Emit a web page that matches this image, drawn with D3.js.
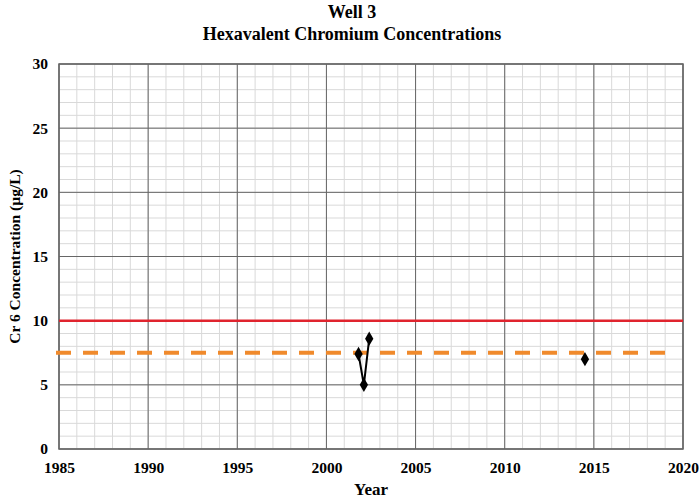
<!DOCTYPE html>
<html>
<meta charset="UTF-8">
<style>
body { margin: 0; background: #fff; }
text { font-family: "Liberation Serif", "Times New Roman", serif; fill: #000; }
.minor line { stroke: #d9d9d9; stroke-width: 1px; }
.major line { stroke: #666; stroke-width: 1px; }
</style>
<svg width="699" height="498"></svg>
<script src="https://d3js.org/d3.v7.min.js"></script>
<script>
//	chart data
var xTicks = [1985, 1990, 1995, 2000, 2005, 2010, 2015, 2020];
var yTicks = [0, 5, 10, 15, 20, 25, 30];
var sampleYears = [2001.8, 2002.1, 2002.4];
var sampleValues = [7.4, 5.0, 8.6];
var laterYears = [2014.5];
var laterValues = [7.0];
var mcl = 10;
var phg = 7.5;

var svg = d3.select("svg"),
    margin = {top: 64, right: 16, bottom: 49, left: 59},
    width = 699 - margin.left - margin.right,
    height = 498 - margin.top - margin.bottom;

var x = d3.scaleLinear().domain([1985, 2020]).range([0, width]);
var y = d3.scaleLinear().domain([0, 30]).range([height, 0]);

var g = svg.append("g").attr("transform", "translate(" + margin.left + "," + margin.top + ")");

//	grid: minor every 1, major every 5
g.append("g").attr("class", "minor")
  .selectAll("line.v").data(d3.range(1985, 2021)).enter().append("line")
  .attr("x1", function(d) { return x(d); }).attr("x2", function(d) { return x(d); })
  .attr("y1", 0).attr("y2", height);
g.select(".minor")
  .selectAll("line.h").data(d3.range(0, 31)).enter().append("line")
  .attr("y1", function(d) { return y(d); }).attr("y2", function(d) { return y(d); })
  .attr("x1", 0).attr("x2", width);

var major = g.append("g").attr("class", "major");
major.selectAll(".vx").data(xTicks).enter().append("line")
  .attr("x1", function(d) { return x(d); }).attr("x2", function(d) { return x(d); })
  .attr("y1", 0).attr("y2", height);
major.selectAll(".hy").data(yTicks).enter().append("line")
  .attr("y1", function(d) { return y(d); }).attr("y2", function(d) { return y(d); })
  .attr("x1", 0).attr("x2", width);

g.append("rect").attr("width", width).attr("height", height)
  .attr("fill", "none").attr("stroke", "#666").attr("stroke-width", 1.5);

//	axes (labels only)
var xAxis = g.append("g").attr("transform", "translate(0," + height + ")")
  .call(d3.axisBottom(x).tickValues(xTicks).tickFormat(d3.format("d")).tickSize(0).tickPadding(13));
var yAxis = g.append("g")
  .call(d3.axisLeft(y).tickValues(yTicks).tickSize(0).tickPadding(11));
[xAxis, yAxis].forEach(function(a) {
  a.select(".domain").remove();
  a.selectAll("text").attr("font-family", "Liberation Serif").attr("font-size", 15.5)
    .attr("font-weight", "bold").attr("fill", "#000");
});

//	standards
g.append("line").attr("x1", 0).attr("x2", width)
  .attr("y1", y(mcl)).attr("y2", y(mcl))
  .attr("stroke", "#e0242e").attr("stroke-width", 2.5);
g.append("line").attr("x1", -3).attr("x2", width - 10)
  .attr("y1", y(phg)).attr("y2", y(phg))
  .attr("stroke", "#f08a2c").attr("stroke-width", 4)
  .attr("stroke-dasharray", "15,12");

//	samples
var pts = sampleYears.map(function(d, i) { return [d, sampleValues[i]]; });
var pts2 = laterYears.map(function(d, i) { return [d, laterValues[i]]; });

g.append("path").datum(pts)
  .attr("fill", "none").attr("stroke", "#000").attr("stroke-width", 2)
  .attr("d", d3.line().x(function(d) { return x(d[0]); }).y(function(d) { return y(d[1]); }));

g.selectAll(".pt").data(pts.concat(pts2)).enter().append("path")
  .attr("class", "pt")
  .attr("transform", function(d) { return "translate(" + x(d[0]) + "," + y(d[1]) + ")"; })
  .attr("d", d3.symbol().type(d3.symbolDiamond).size(60))
  .attr("fill", "#000");

//	titles
svg.append("text").attr("x", 352).attr("y", 18).attr("text-anchor", "middle")
  .attr("font-size", 18).attr("font-weight", "bold").text("Well 3");
svg.append("text").attr("x", 352).attr("y", 40).attr("text-anchor", "middle")
  .attr("font-size", 18).attr("font-weight", "bold").text("Hexavalent Chromium Concentrations");
svg.append("text").attr("x", margin.left + width / 2).attr("y", 495).attr("text-anchor", "middle")
  .attr("font-size", 17).attr("font-weight", "bold").text("Year");
svg.append("text").attr("transform", "translate(20," + (margin.top + height / 2) + ") rotate(-90)")
  .attr("text-anchor", "middle").attr("font-size", 15.5).attr("font-weight", "bold")
  .text("Cr 6 Concentration (µg/L)");
</script>
</html>
